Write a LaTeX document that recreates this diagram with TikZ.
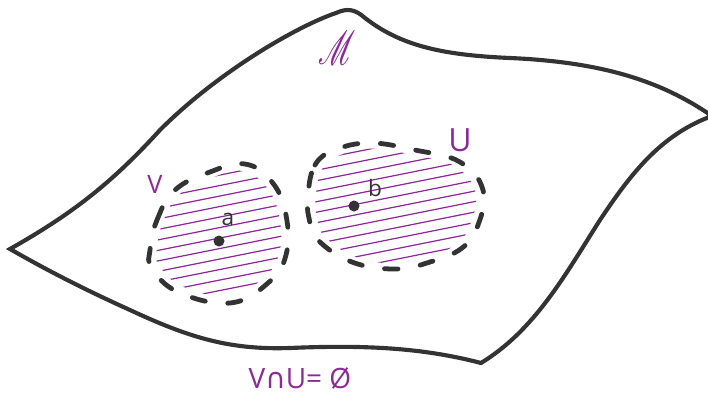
\documentclass[tikz,border=0pt]{standalone}
\usepackage{fontspec}
\setmainfont{Open Sans}
\newfontfamily\symfont{DejaVu Sans}
\usepackage{mathrsfs}
\usepackage{graphicx}
\definecolor{purp}{RGB}{142,39,153}
\definecolor{ink}{RGB}{51,51,51}
\begin{document}
\begin{tikzpicture}[x=0.75pt,y=-0.75pt,
  outline/.style={draw=ink,line width=3.1pt,line join=miter},
  blob/.style={draw=ink,line width=3.6pt,line cap=round,dash pattern=on 10pt off 17pt},
  hatch/.style={draw=purp,line width=0.9pt},
  lbl/.style={text=purp,inner sep=0pt},
  pt/.style={text=ink,inner sep=0pt}]
\useasboundingbox (0,0) rectangle (708,393);
% manifold outline
\draw[outline] (10,249) .. controls (70,215) and (110,185) .. (160,130)
  .. controls (220,70) and (300,25) .. (336,13)
  .. controls (347,8) and (355,9) .. (365,18)
  .. controls (400,45) and (440,55) .. (510,58)
  .. controls (600,62) and (660,80) .. (712,116)
  -- (712,116) .. controls (660,135) and (630,175) .. (600,220)
  .. controls (565,275) and (535,330) .. (481,363)
  .. controls (420,347) and (360,345) .. (290,348)
  .. controls (230,350) and (190,338) .. (130,310)
  .. controls (90,292) and (50,272) .. (10,249) -- cycle;
% hatching V
\begin{scope}
\clip[shift={(219,234)},scale=0.9] plot[smooth cycle,tension=0.7] coordinates {(-69,16) (-62,-14) (-44,-44) (-9,-62) (26,-70) (53,-52) (67,-19) (67,21) (49,49) (11,69) (-41,58) (-67,34)};
\foreach \k in {-10,...,10} \draw[hatch] (100,{238+\k*10.5+24}) -- (340,{238+\k*10.5-24});
\end{scope}
% hatching U
\begin{scope}
\clip[shift={(396,206)},scale=0.91] plot[smooth cycle,tension=0.7] coordinates {(-88,-11) (-81,-41) (-61,-56) (-26,-63) (19,-56) (64,-44) (87,-16) (82,19) (66,42) (34,56) (-1,63) (-44,56) (-78,34) (-87,12)};
\foreach \k in {-10,...,10} \draw[hatch] (280,{206+\k*10.5+24}) -- (520,{206+\k*10.5-24});
\end{scope}
% blobs
\draw[blob,shift={(219,234)}] plot[smooth cycle,tension=0.7] coordinates {(-69,16) (-62,-14) (-44,-44) (-9,-62) (26,-70) (53,-52) (67,-19) (67,21) (49,49) (11,69) (-41,58) (-67,34)};
\draw[blob,shift={(396,206)}] plot[smooth cycle,tension=0.7] coordinates {(-88,-11) (-81,-41) (-61,-56) (-26,-63) (19,-56) (64,-44) (87,-16) (82,19) (66,42) (34,56) (-1,63) (-44,56) (-78,34) (-87,12)};
% points
\fill[ink] (219,241) circle[radius=5.5];
\fill[ink] (354,206) circle[radius=5.5];
\node[pt,font=\fontsize{17}{17}\selectfont] (la) at (228,219) {a};
\node[pt,font=\fontsize{17}{17}\selectfont] (lb) at (375,188) {b};
% labels
\node[lbl,font=\fontsize{19}{19}\selectfont] (lV) at (155,184) {V};
\node[lbl,font=\fontsize{24}{24}\selectfont] (lU) at (460,140) {U};
\node[lbl] (lM) at (337,48) {\resizebox*{28pt}{25pt}{$\mathscr{M}$}};
\node[lbl,font=\fontsize{21}{21}\selectfont,anchor=base] (lI) at (300,388) {V{\symfont ∩}U= Ø};
\end{tikzpicture}
\end{document}
